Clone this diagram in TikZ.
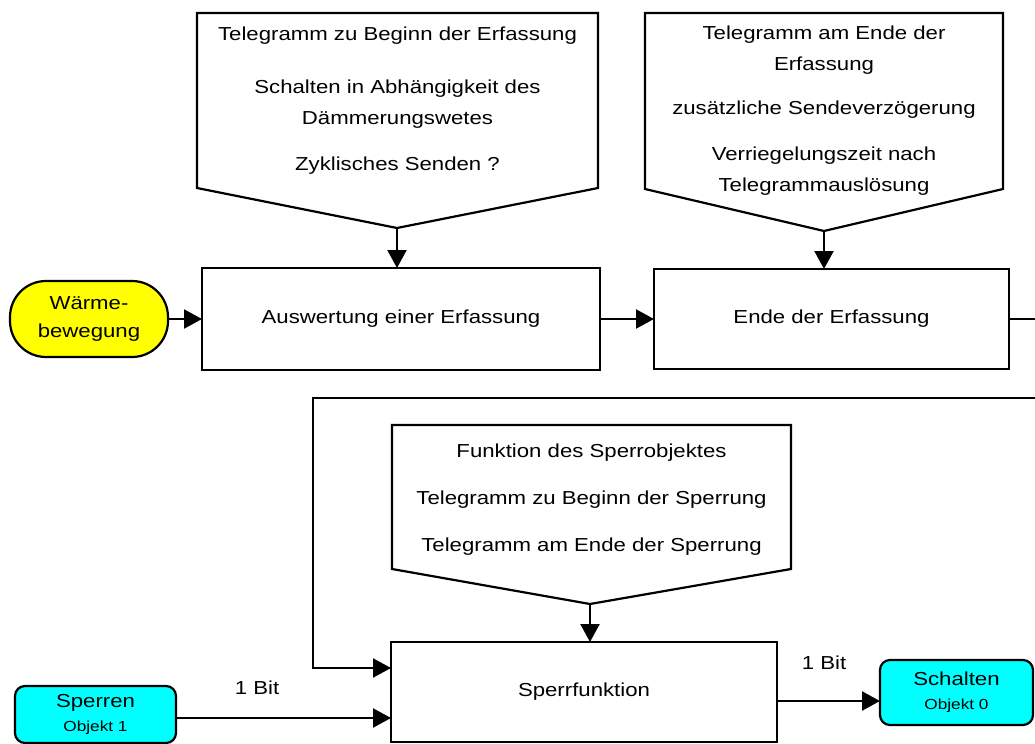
\documentclass[tikz,border=0pt]{standalone}
\usepackage{fontspec}
\setmainfont[FakeStretch=1.18]{Liberation Sans}
\usetikzlibrary{arrows.meta}

\definecolor{objcyan}{RGB}{0,255,255}
\definecolor{warmyellow}{RGB}{255,255,0}

\tikzset{
  box/.style={draw, line width=1.1pt, inner sep=0pt, outer sep=0pt, align=center},
  callout/.style={inner sep=0pt, outer sep=0pt, align=center},
  obj/.style={box, rounded corners=5pt, fill=objcyan, font=\fontsize{9.4}{12}\selectfont},
  conn/.style={line width=1.1pt, -{Triangle[length=9pt,width=9.5pt]}},
}
\newcommand{\objtext}[1]{{\fontsize{7.3}{9}\selectfont #1}}

\begin{document}
\begin{tikzpicture}[x=0.5pt, y=-0.5pt, font=\fontsize{9.4}{15.5}\selectfont]
\useasboundingbox (0,0) rectangle (1035,744);

% upper row
\node[callout, minimum width=200.5pt, minimum height=87.5pt] (tel1) at (397.5,100.5)
  {Telegramm zu Beginn der Erfassung\\[11pt]
   Schalten in Abhängigkeit des\\Dämmerungswetes\\[7.5pt]
   Zyklisches Senden ?};
\coordinate (tip1) at (397,228);
\draw[line width=1.1pt] (tel1.north west) -- (tel1.north east) -- (tel1.south east) -- (tip1) -- (tel1.south west) -- cycle;

% text sits 5pt lower than the frame
\node[callout, minimum width=179pt, minimum height=88pt] (tel2) at (824,111)
  {Telegramm am Ende der\\Erfassung\\[6.5pt]
   zusätzliche Sendeverzögerung\\[7.5pt]
   Verriegelungszeit nach\\Telegrammauslösung};
\coordinate (tip2) at (824,231);
\draw[line width=1.1pt] ([yshift=5pt]tel2.north west) -- ([yshift=5pt]tel2.north east) -- ([yshift=5pt]tel2.south east) -- (tip2) -- ([yshift=5pt]tel2.south west) -- cycle;

\node[box, rounded corners=18pt, fill=warmyellow, minimum width=79pt, minimum height=38pt,
  font=\fontsize{9.4}{14}\selectfont] (warm) at (89,319) {Wärme-\\bewegung};
\node[box, minimum width=199pt, minimum height=51pt] (ausw) at (401,319) {Auswertung einer Erfassung};
\node[box, minimum width=177.5pt, minimum height=50pt] (ende) at (831.5,319) {Ende der Erfassung};

\draw[conn] (warm.east) -- (warm.east -| ausw.west);
\draw[conn] (ausw.east) -- (ausw.east -| ende.west);
\draw[conn] (tip1) -- (tip1 |- ausw.north);
\draw[conn] (tip2) -- (tip2 |- ende.north);

% lower row
\node[callout, minimum width=199.5pt, minimum height=72pt] (sperrobj) at (591.5,500)
  {Funktion des Sperrobjektes\\[8pt]
   Telegramm zu Beginn der Sperrung\\[8pt]
   Telegramm am Ende der Sperrung};
\coordinate (tip3) at (590,604);
\draw[line width=1.1pt] ([yshift=1.5pt]sperrobj.north west) -- ([yshift=1.5pt]sperrobj.north east) -- ([yshift=1.5pt]sperrobj.south east) -- (tip3) -- ([yshift=1.5pt]sperrobj.south west) -- cycle;

\node[box, minimum width=193pt, minimum height=50pt] (sperrf) at (584,692) {Sperrfunktion};
\node[obj, minimum width=80.5pt, minimum height=28.5pt] (sperren) at (95.5,714.5) {Sperren\\\objtext{Objekt 1}};
\node[obj, minimum width=76.5pt, minimum height=32.5pt] (schalten) at (956.5,692.5) {Schalten\\\objtext{Objekt 0}};

\node (bit1) at (257,688) {1 Bit};
\node (bit2) at (824,663) {1 Bit};

\coordinate (r1) at (1036,319);
\coordinate (r2) at (1036,398);
\coordinate (l1) at (313,398);
\coordinate (lin) at (313,668);
\coordinate (in1) at (176,718);
\coordinate (out1) at (777,701);

\draw[conn] (tip3) -- (tip3 |- sperrf.north);
\draw[conn] (ende.east) -- (r1) -- (r2) -- (l1) -- (lin) -- (lin -| sperrf.west);
\draw[conn] (in1 -| sperren.east) -- (in1 -| sperrf.west);
\draw[conn] (out1 -| sperrf.east) -- (out1 -| schalten.west);
\end{tikzpicture}
\end{document}
